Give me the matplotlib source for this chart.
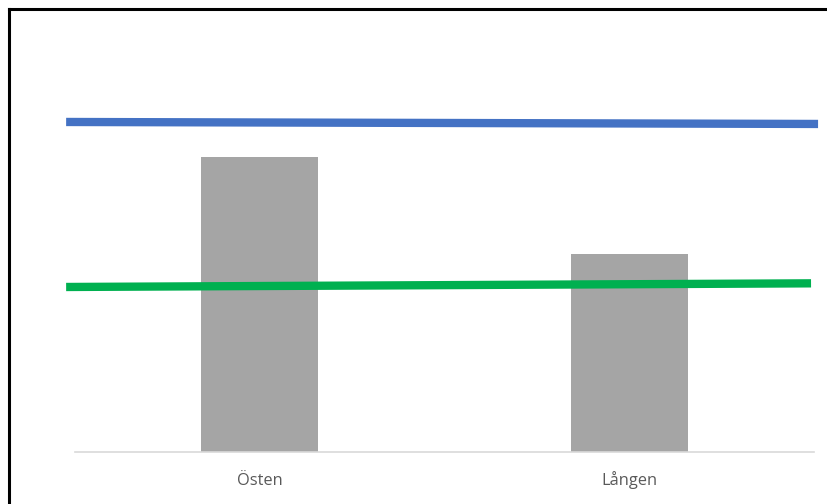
import matplotlib.pyplot as plt
from matplotlib.lines import Line2D

categories = ["Östen", "Lången"]
bar_values = [88.9, 59.6]

# reference lines, given at their two ends
line_x = [-0.524, 1.511]
blue_values = [99.4, 98.8]
green_x = [-0.524, 1.492]
green_values = [49.7, 50.8]

W, H = 827, 504
fig = plt.figure(figsize=(W / 100, H / 100), dpi=100)
ax = fig.add_axes([75 / W, 52 / H, 739 / W, 422 / H])

x = range(len(categories))
ax.bar(x, bar_values, width=0.317, color="#a5a5a5", zorder=2)
ax.plot(line_x, blue_values, color="#4472c4", lw=6, solid_capstyle="butt",
        clip_on=False, zorder=3)
ax.plot(green_x, green_values, color="#00b050", lw=6, solid_capstyle="butt",
        clip_on=False, zorder=3)

ax.set_xlim(-0.5, 1.5)
ax.set_ylim(0, 127.1)
ax.set_yticks([])
ax.set_xticks(list(x))
ax.set_xticklabels(categories, fontsize=11.8, color="#595959", family="Open Sans",
                   va="baseline")
ax.tick_params(axis="x", length=0, pad=23.8)
for side in ["top", "right", "left"]:
    ax.spines[side].set_visible(False)
ax.spines["bottom"].set_color("#d9d9d9")
ax.spines["bottom"].set_linewidth(1.2)

# frame edge along top and left
fig.add_artist(Line2D([9 / W, 9 / W], [0, 1 - 9 / H], color="black", lw=2.2,
                      transform=fig.transFigure))
fig.add_artist(Line2D([9 / W, 1], [1 - 9 / H, 1 - 9 / H], color="black", lw=2.2,
                      transform=fig.transFigure))

fig.savefig("out.png", dpi=100)
